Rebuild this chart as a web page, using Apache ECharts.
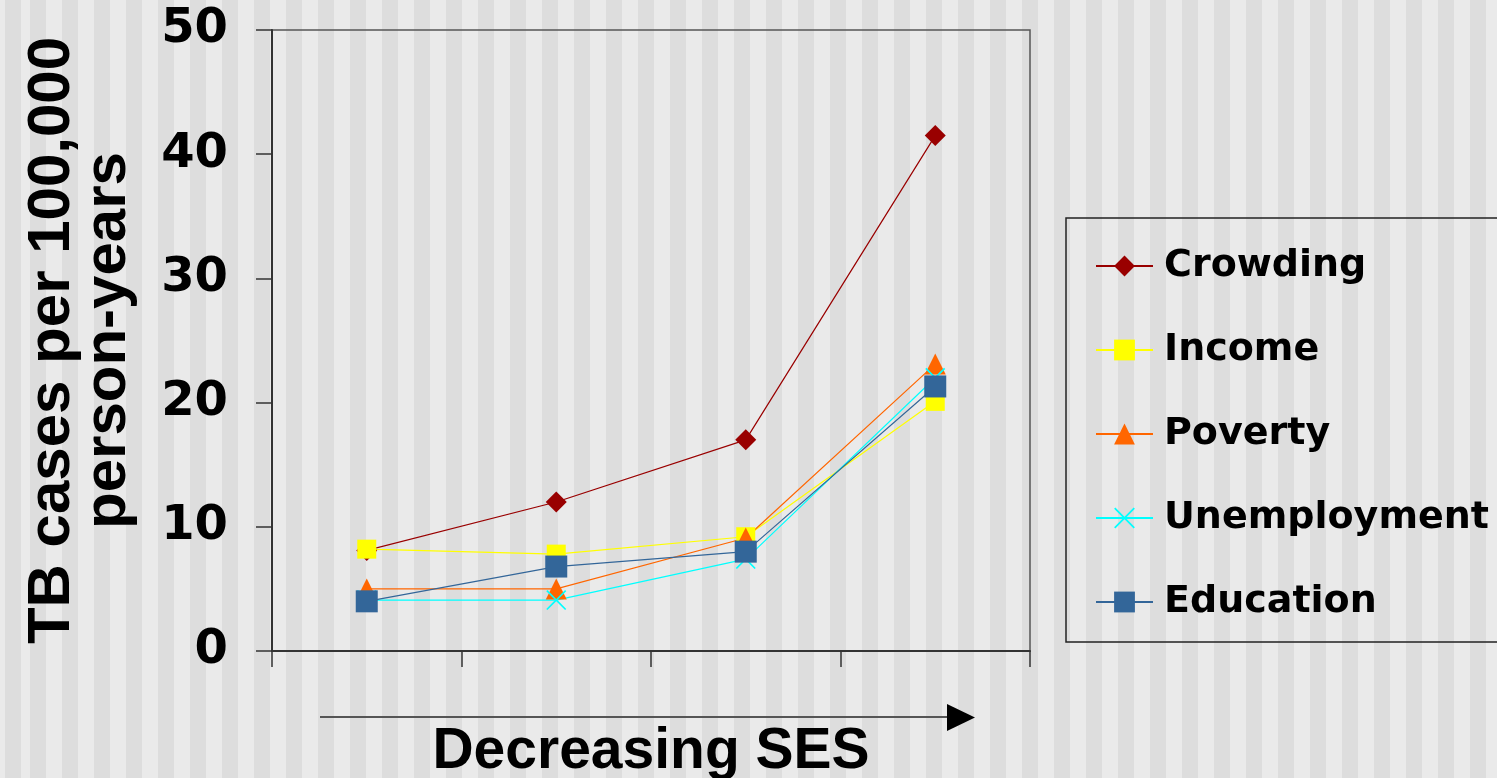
<!DOCTYPE html>
<html>
<head>
<meta charset="utf-8">
<script src="https://cdn.jsdelivr.net/npm/echarts@6/dist/echarts.min.js"></script>
<style>
  html, body { margin: 0; padding: 0; }
  #chart {
    width: 1497px; height: 778px;
    background: repeating-linear-gradient(90deg, #dddddd 0px, #dddddd 16px, #eaeaea 16px, #eaeaea 32px);
    background-position: 30px 0;
  }
</style>
</head>
<body>
<div id="chart"></div>
<script>
// SES groups, ordered from highest to lowest socioeconomic status
const categories = ['1', '2', '3', '4'];

// TB cases per 100,000 person-years by SES measure
const crowding     = [8.1, 12.0, 17.0, 41.5];
const income       = [8.2, 7.8, 9.2, 20.1];
const poverty      = [5.0, 5.0, 9.1, 23.1];
const unemployment = [4.1, 4.1, 7.4, 22.0];
const education    = [4.0, 6.8, 8.0, 21.3];

const yTicks = { min: 0, max: 50, interval: 10 };

const crossSymbol = 'path://M0,1.2 L1.2,0 L10,8.8 L18.8,0 L20,1.2 L11.2,10 L20,18.8 L18.8,20 L10,11.2 L1.2,20 L0,18.8 L8.8,10 Z';

function lineSeries(name, data, color, symbol, size) {
  return {
    name, type: 'line', data,
    symbol, symbolSize: size,
    lineStyle: { color, width: 1.2 },
    itemStyle: { color, borderWidth: 0 },
    emphasis: { disabled: true },
    animation: false
  };
}

const chart = echarts.init(document.getElementById('chart'), null, { renderer: 'canvas' });
chart.setOption({
  backgroundColor: 'transparent',
  animation: false,
  grid: {
    left: 272, top: 30, width: 758, height: 621,
    outerBoundsMode: 'none', containLabel: false,
    show: true, borderColor: '#555', borderWidth: 1.5, backgroundColor: 'transparent'
  },
  xAxis: {
    type: 'category', data: categories, boundaryGap: true,
    axisLine: { lineStyle: { color: '#333', width: 2 } },
    axisTick: { show: true, length: 16, lineStyle: { color: '#333', width: 1.5 } },
    axisLabel: { show: false },
    splitLine: { show: false },
    name: 'Decreasing SES', nameLocation: 'middle', nameGap: 73,
    nameTextStyle: { fontFamily: 'Liberation Sans', fontWeight: 'bold', fontSize: 57, color: '#000' }
  },
  yAxis: {
    type: 'value', min: yTicks.min, max: yTicks.max, interval: yTicks.interval,
    axisLine: { show: true, lineStyle: { color: '#333', width: 2 } },
    axisTick: { show: true, length: 16, lineStyle: { color: '#333', width: 1.5 } },
    axisLabel: { margin: 44, fontFamily: 'DejaVu Sans', fontWeight: 'bold', fontSize: 48, color: '#000' },
    splitLine: { show: false },
    name: 'TB cases per 100,000\nperson-years', nameLocation: 'middle', nameRotate: 90, nameGap: 136,
    nameTextStyle: { fontFamily: 'Liberation Sans', fontWeight: 'bold', fontSize: 60, lineHeight: 56, color: '#000' }
  },
  legend: {
    orient: 'vertical', left: 1095, top: 246, padding: 0,
    itemWidth: 57, itemHeight: 26, itemGap: 44,
    textStyle: { fontFamily: 'DejaVu Sans', fontWeight: 'bold', fontSize: 38, lineHeight: 40, color: '#000', padding: [0, 0, 0, 6] },
    data: ['Crowding', 'Income', 'Poverty', 'Unemployment', 'Education']
  },
  graphic: [
    { type: 'rect', shape: { x: 1066, y: 218, width: 500, height: 424 },
      style: { fill: 'none', stroke: '#222', lineWidth: 1.5 }, silent: true },
    { type: 'line', shape: { x1: 320, y1: 717, x2: 950, y2: 717 },
      style: { stroke: '#555', lineWidth: 2 }, silent: true },
    { type: 'polygon', shape: { points: [[947, 704], [947, 731], [975, 717.5]] },
      style: { fill: '#000' }, silent: true }
  ],
  series: [
    lineSeries('Crowding', crowding, '#990000', 'diamond', 21),
    lineSeries('Income', income, '#ffff00', 'rect', 19),
    lineSeries('Poverty', poverty, '#ff6600', 'triangle', 21),
    lineSeries('Unemployment', unemployment, '#00ffff', crossSymbol, 20),
    lineSeries('Education', education, '#336699', 'rect', 22)
  ]
});
</script>
</body>
</html>
